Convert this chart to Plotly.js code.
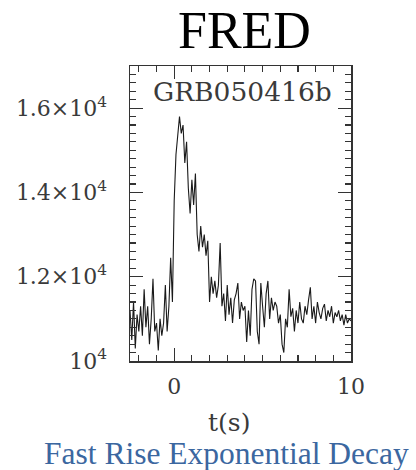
<!DOCTYPE html>
<html>
<head>
<meta charset="utf-8">
<script src="https://cdn.plot.ly/plotly-3.0.1.min.js"></script>
<style>html,body{margin:0;padding:0;background:#fff;}#chart{width:416px;height:470px;}</style>
</head>
<body>
<div id="chart"></div>
<script>
// Light curve of GRB050416b, counts per bin, bins every 0.1 s starting at t = -2.5 s
const tStart = -2.5;
const tStep = 0.1;
const counts = [
  11200, 10500, 11400, 10300, 11100, 10700, 11300, 10600, 11700, 10800,
  11300, 10400, 11000, 11950, 10700, 10900, 10250, 11000, 10600, 10900,
  11800, 10700, 11300, 12450, 11400, 13800, 14900, 15300, 15800, 15400,
  15600, 14700, 15200, 14100, 13500, 14300, 13700, 14450, 13000, 12600,
  13200, 12700, 13000, 12500, 12850, 11400, 12000, 11600, 11900, 11500,
  11800, 12800, 11300, 11600, 10950, 11800, 11100, 11500, 10900, 11450,
  11600, 11850, 11000, 11400, 11200, 11300, 10450, 11200, 10600, 11700,
  11950, 11900, 10700, 10400, 11850, 11300, 10800, 11600, 11900, 11000,
  11500, 11200, 11400, 11300, 10900, 11100, 10400, 10200, 11000, 10800,
  11700, 11050, 11250, 10700, 11200, 10900, 11400, 11000, 10900, 11300,
  11100, 11450, 11750, 11000, 11300, 10900, 11400, 11150, 11000, 11250,
  11350, 10950, 11200, 11050, 11300, 10900, 11150, 11050, 11200, 10950,
  11100, 10850, 11100, 10900, 11000, 10950
];
const xTickVals = [0, 10];
const xTickText = ['0', '10'];
const yTickVals = [10000, 12000, 14000, 16000];
const yTickText = ['10<sup>4</sup>', '1.2×10<sup>4</sup>', '1.4×10<sup>4</sup>', '1.6×10<sup>4</sup>'];
const chartTitle = 'FRED';
const burstName = 'GRB050416b';
const xLabel = 't(s)';
const caption = 'Fast Rise Exponential Decay';

const axisColor = '#333';
const tickFont = {family: 'DejaVu Serif', size: 22, color: '#3a3a3a'};

const trace = {
  type: 'scatter', mode: 'lines',
  x0: tStart, dx: tStep, y: counts,
  line: {color: '#1a1a1a', width: 1.1},
  hoverinfo: 'skip'
};

const layout = {
  width: 416, height: 470,
  margin: {l: 130, r: 65, t: 66, b: 109, pad: 0},
  paper_bgcolor: '#fff', plot_bgcolor: '#fff',
  showlegend: false,
  xaxis: {
    range: [-2.5, 10], showgrid: false, zeroline: false,
    showline: true, linecolor: axisColor, linewidth: 1.5, mirror: 'allticks',
    tickmode: 'array', tickvals: xTickVals, ticktext: xTickText,
    ticks: 'inside', ticklen: 13, tickwidth: 1.2, tickcolor: axisColor,
    ticklabelstandoff: 5,
    tickfont: tickFont,
    minor: {dtick: 1, tick0: 0, ticks: 'inside', ticklen: 6, tickwidth: 1.1, tickcolor: axisColor, showgrid: false}
  },
  yaxis: {
    range: [10000, 17000], showgrid: false, zeroline: false,
    showline: true, linecolor: axisColor, linewidth: 1.5, mirror: 'allticks',
    tickmode: 'array', tickvals: yTickVals, ticktext: yTickText,
    ticks: 'inside', ticklen: 13, tickwidth: 1.2, tickcolor: axisColor,
    ticklabelstandoff: 17,
    tickfont: tickFont,
    minor: {dtick: 200, tick0: 10000, ticks: 'inside', ticklen: 6, tickwidth: 1.1, tickcolor: axisColor, showgrid: false}
  },
  annotations: [
    {text: chartTitle, xref: 'paper', yref: 'paper', x: 0.52, y: 1.119, xanchor: 'center', yanchor: 'middle',
     showarrow: false, font: {family: 'Liberation Serif', size: 52, color: '#000'}},
    {text: burstName, xref: 'paper', yref: 'paper', x: 0.507, y: 0.915, xanchor: 'center', yanchor: 'middle',
     showarrow: false, font: {family: 'DejaVu Serif', size: 26.5, color: '#3a3a3a'}},
    {text: xLabel, xref: 'paper', yref: 'paper', x: 0.45, y: -0.207, xanchor: 'center', yanchor: 'middle',
     showarrow: false, font: {family: 'DejaVu Serif', size: 25, color: '#3a3a3a'}},
    {text: caption, xref: 'paper', yref: 'paper', x: 0.437, y: -0.312, xanchor: 'center', yanchor: 'middle',
     showarrow: false, font: {family: 'Liberation Serif', size: 31.5, color: '#3b67a0'}}
  ]
};

Plotly.newPlot('chart', [trace], layout, {displayModeBar: false, staticPlot: true});
</script>
</body>
</html>
